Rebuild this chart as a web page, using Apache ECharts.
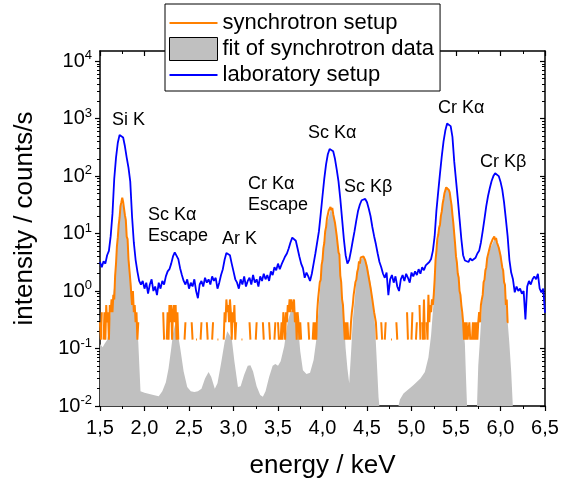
<!DOCTYPE html>
<html>
<head>
<meta charset="utf-8">
<script src="https://cdn.jsdelivr.net/npm/echarts@6/dist/echarts.min.js"></script>
<style>
  html, body { margin: 0; padding: 0; background: #fff; }
  #chart { width: 563px; height: 484px; }
</style>
</head>
<body>
<div id="chart"></div>
<script>
// ---- laboratory setup: count rate (counts/s), channels from 1.50 keV every 0.02 keV ----
const labStart = 1.5;
const labStep = 0.02;
const labRate = [
  3.2, 2.6, 3.3, 3.0, 4.2,
  5.0, 9, 22, 90, 210,
  380, 520, 560, 470, 330,
  210, 140, 80, 20, 7,
  3.5, 2.2, 1.5, 1.3, 1.5,
  1.1, 1.4, 0.9, 1.3, 1.6,
  1.0, 1.2, 0.85, 1.4, 1.1,
  1.5, 1.3, 1.8, 2.2, 2.4,
  3.0, 4.0, 4.7, 4.5, 3.6,
  2.5, 1.9, 1.5, 1.3, 1.6,
  1.1, 1.4, 1.2, 1.6, 1.0,
  0.75, 1.3, 1.5, 1.2, 1.7,
  1.4, 1.6, 1.3, 1.8, 1.5,
  1.7, 1.1, 1.4, 1.9, 2.4,
  3.5, 4.6, 4.8, 4.2, 3.0,
  2.2, 1.6, 1.4, 1.1, 1.6,
  1.3, 1.8, 1.2, 1.5, 1.7,
  1.3, 1.9, 1.4, 1.6, 1.2,
  1.8, 1.5, 2.0, 1.6, 1.9,
  1.5, 2.2, 1.9, 2.6, 2.3,
  3.0, 2.4, 2.9, 3.4, 4.0,
  4.5, 5.5, 7.0, 8.5, 9.0,
  7.5, 5.5, 4.0, 3.0, 2.5,
  1.7, 2.1, 1.8, 1.5, 2.0,
  3.0, 4.5, 7, 11, 22,
  45, 90, 160, 240, 295,
  305, 270, 200, 130, 80,
  40, 18, 8, 4.2, 3.0,
  3.5, 5, 7.5, 11, 17,
  25, 32, 38, 41, 40,
  35, 27, 20, 13, 9,
  6.5, 4.5, 3.2, 2.6, 2.0,
  1.7, 2.1, 0.85, 1.6, 1.9,
  1.4, 1.8, 1.2, 1.0, 1.6,
  1.9, 1.5, 2.0, 1.7, 1.4,
  2.1, 1.8, 2.2, 1.9, 2.4,
  2.0, 2.6, 2.3, 2.8, 3.0,
  3.2, 3.6, 5, 9, 25,
  53, 110, 220, 400, 620,
  820, 870, 740, 480, 180,
  85, 40, 18, 8, 4.2,
  3.4, 3.6, 3.2, 3.7, 3.4,
  3.6, 3.8, 4.5, 5, 7,
  11, 18, 30, 45, 62,
  82, 100, 112, 112, 100,
  80, 58, 35, 18, 9,
  3.5, 2.1, 1.6, 0.95, 1.2,
  1.0, 1.1, 0.9, 1.0, 0.32,
  1.2, 1.5, 1.3, 1.6, 1.8,
  1.6, 2.0, 1.1, 0.95, 1.1,
  0.42
];

// ---- synchrotron setup: counts per channel, channels from 1.50 keV every 0.01 keV ----
const syncStart = 1.5;
const syncStep = 0.01;
const syncLiveTime = 7; // s
const syncCounts = [
  2, 1, 3, 0, 1, 3, 1, 4, 2, 3,            // 1.50
  1, 4, 3, 5, 3, 6, 5, 13, 21, 42,         // 1.60
  60, 99, 132, 210, 245, 295, 248, 232, 146, 121, // 1.70
  62, 56, 25, 27, 11, 11, 4, 7, 3, 4,      // 1.80
  2, 3, 1, 2, 0, 0, 0, 0, 0, 0,            // 1.90
  0, 0, 0, 0, 0, 0, 0, 0, 0, 0,            // 2.00
  0, 0, 0, 0, 0, 0, 0, 0, 0, 0,            // 2.10
  0, 3, 1, 0, 0, 1, 3, 1, 4, 2,            // 2.20
  4, 1, 3, 4, 2, 4, 1, 3, 1, 0,            // 2.30
  0, 0, 0, 0, 0, 1, 2, 0, 0, 0,            // 2.40
  0, 0, 0, 2, 1, 0, 0, 0, 1, 1,            // 2.50
  0, 0, 0, 1, 2, 0, 0, 0, 0, 0,            // 2.60
  2, 1, 0, 0, 0, 0, 1, 2, 0, 0,            // 2.70
  0, 0, 1, 1, 0, 0, 0, 0, 0, 1,            // 2.80
  3, 2, 5, 3, 4, 2, 5, 3, 1, 3,            // 2.90
  2, 4, 1, 2, 0, 0, 0, 0, 0, 1,            // 3.00
  1, 0, 0, 0, 0, 0, 0, 0, 2, 1,            // 3.10
  0, 0, 0, 0, 0, 1, 2, 0, 0, 0,            // 3.20
  0, 0, 0, 2, 1, 0, 0, 0, 0, 0,            // 3.30
  2, 1, 0, 0, 0, 0, 1, 2, 0, 0,            // 3.40
  2, 1, 0, 1, 2, 1, 3, 2, 1, 3,            // 3.50
  2, 4, 3, 5, 3, 5, 4, 3, 5, 2,            // 3.60
  3, 1, 3, 2, 1, 2, 1, 0, 0, 0,            // 3.70
  0, 0, 0, 0, 2, 1, 0, 0, 0, 1,            // 3.80
  2, 1, 2, 1, 3, 5, 5, 10, 11, 20,         // 3.90
  24, 39, 48, 76, 90, 128, 134, 176, 170, 203, // 4.00
  178, 195, 152, 160, 108, 106, 64, 62, 33, 30, // 4.10
  13, 10, 5, 4, 2, 1, 2, 1, 2, 1,          // 4.20
  0, 1, 2, 3, 4, 6, 6, 10, 11, 15,         // 4.30
  17, 23, 21, 27, 27, 29, 28, 30, 24, 26,  // 4.40
  18, 19, 12, 13, 8, 8, 5, 5, 3, 3,        // 4.50
  2, 1, 0, 0, 0, 0, 2, 1, 0, 0,            // 4.60
  1, 2, 0, 0, 0, 0, 0, 1, 1, 0,            // 4.70
  0, 0, 0, 2, 1, 0, 0, 0, 0, 0,            // 4.80
  0, 0, 0, 0, 0, 3, 1, 0, 0, 0,            // 4.90
  1, 3, 0, 0, 0, 1, 2, 0, 0, 4,            // 5.00
  1, 0, 2, 1, 5, 1, 0, 2, 1, 6,            // 5.10
  2, 4, 3, 5, 4, 6, 11, 24, 35, 56,        // 5.20
  66, 88, 100, 142, 170, 232, 280, 350, 395, 445, // 5.30
  452, 470, 400, 360, 275, 218, 148, 106, 70, 46, // 5.40
  28, 22, 14, 12, 7, 6, 4, 3, 2, 1,        // 5.50
  2, 1, 2, 1, 1, 2, 1, 0, 1, 2,            // 5.60
  1, 2, 1, 2, 1, 2, 3, 2, 4, 5,            // 5.70
  6, 10, 11, 16, 18, 26, 26, 35, 35, 46,   // 5.80
  45, 55, 52, 62, 54, 59, 49, 50, 40, 38,  // 5.90
  29, 29, 18, 16, 10, 9, 4, 5, 2, 2,       // 6.00
  0, 0, 0, 0, 0, 0, 0, 0, 0, 0,            // 6.10
  0, 0, 0, 0, 0, 0, 0, 0, 0, 0,            // 6.20
  0, 0, 0, 0, 0, 0, 0, 0, 0, 0,            // 6.30
  0, 0, 0, 0, 0, 0, 0, 0, 0, 0,            // 6.40
  0                                        // 6.50
];

// ---- fit of the synchrotron spectrum (counts/s) ----
const fitEnergy = [
  1.50, 1.52, 1.53, 1.55, 1.58, 1.60, 1.62, 1.64, 1.66, 1.68,
  1.70, 1.72, 1.74, 1.75, 1.76, 1.78, 1.80, 1.82, 1.84, 1.86,
  1.88, 1.90, 1.92, 1.93, 1.945, 1.955, 2.00, 2.10, 2.16, 2.20,
  2.24, 2.27, 2.30, 2.32, 2.345, 2.37, 2.40, 2.44, 2.48, 2.52,
  2.56, 2.60, 2.64, 2.68, 2.72, 2.75, 2.79, 2.82, 2.86, 2.90,
  2.93, 2.95, 2.98, 3.01, 3.05, 3.08, 3.12, 3.16, 3.19, 3.22,
  3.26, 3.30, 3.33, 3.36, 3.40, 3.44, 3.47, 3.50, 3.53, 3.57,
  3.61, 3.645, 3.67, 3.70, 3.73, 3.75, 3.78, 3.82, 3.86, 3.90,
  3.93, 3.96, 4.00, 4.05, 4.095, 4.14, 4.18, 4.21, 4.24, 4.26,
  4.28, 4.30, 4.32, 4.34, 4.38, 4.42, 4.46, 4.50, 4.54, 4.57,
  4.59, 4.61, 4.63, 4.645, 4.70, 4.80, 4.84, 4.87, 4.91, 5.02,
  5.10, 5.15, 5.19, 5.22, 5.25, 5.28, 5.32, 5.36, 5.40, 5.43,
  5.46, 5.49, 5.52, 5.55, 5.58, 5.60, 5.61, 5.625, 5.64, 5.72,
  5.735, 5.75, 5.77, 5.80, 5.84, 5.88, 5.935, 5.98, 6.01, 6.05,
  6.08, 6.10, 6.12, 6.14, 6.16, 6.50
];
const fitRate = [
  0.12, 0.115, 0.105, 0.12, 0.14, 0.2, 0.45, 0.75, 1.2, 3.5,
  9.5, 22, 38, 40, 37, 23, 10, 4.5, 2, 1.0,
  0.55, 0.3, 0.18, 0.13, 0.04, 0.018, 0.017, 0.0155, 0.0148, 0.018,
  0.026, 0.045, 0.1, 0.18, 0.27, 0.2, 0.105, 0.04, 0.0215, 0.018,
  0.0175, 0.018, 0.02, 0.03, 0.039, 0.032, 0.02, 0.025, 0.055, 0.13,
  0.2, 0.21, 0.15, 0.06, 0.0215, 0.022, 0.035, 0.05, 0.051, 0.04,
  0.022, 0.0155, 0.0145, 0.018, 0.032, 0.05, 0.054, 0.05, 0.06, 0.11,
  0.3, 0.45, 0.45, 0.4, 0.2, 0.09, 0.042, 0.036, 0.038, 0.063,
  0.14, 0.6, 3.5, 15, 27, 16, 5.5, 1.3, 0.35, 0.1,
  0.045, 0.025, 0.08, 0.3, 1.5, 3.3, 4.0, 3.0, 1.4, 0.6,
  0.25, 0.06, 0.014, 0.008, 0.002, 0.002, 0.008, 0.013, 0.0165, 0.023,
  0.03, 0.039, 0.07, 0.17, 0.7, 4.5, 15, 40, 65, 50,
  20, 6, 2, 0.7, 0.25, 0.12, 0.04, 0.009, 0.002, 0.002,
  0.009, 0.05, 0.15, 1.0, 2.8, 5.3, 8.2, 6.2, 4.0, 1.1,
  0.3, 0.12, 0.04, 0.009, 0.002, 0.002
];

// ---- axes ----
const energyMin = 1.5, energyMax = 6.5, energyInterval = 0.5;
const rateMin = 0.01, rateMax = 15000;
const rateDecades = [0.01, 0.1, 1, 10, 100, 1000, 10000];

// log minor ticks at 2..9 within each decade
const rateMinorTicks = [];
rateDecades.slice(0, -1).forEach(function (d) {
  for (let k = 2; k <= 9; k++) rateMinorTicks.push(+(d * k).toPrecision(3));
});

const FONT = '"Liberation Sans", Arial, Helvetica, sans-serif';

function channelEnergy(start, step, i) {
  return Math.round((start + i * step) * 1000) / 1000;
}
const labData = labRate.map(function (v, i) { return [channelEnergy(labStart, labStep, i), v]; });
const syncData = syncCounts.map(function (c, i) {
  return [channelEnergy(syncStart, syncStep, i), c > 0 ? c / syncLiveTime : '-'];
});
const fitData = fitEnergy.map(function (e, i) { return [e, fitRate[i]]; });

const axisColor = '#000';
const lineW = 1.5;

// legend marker for the line series: a 2px bar centred in the item box
const lineIcon = 'path://M0,0 L0.01,0 Z M0,10.5 L48,10.5 L48,12.5 L0,12.5 Z M47.99,23 L48,23 Z';

function xAxisBase(extra) {
  return Object.assign({
    type: 'value', min: energyMin, max: energyMax, interval: energyInterval,
    splitLine: { show: false },
    axisLine: { show: true, onZero: false, lineStyle: { color: axisColor, width: lineW } },
    axisTick: { show: true, length: 5, lineStyle: { color: axisColor, width: 1.2 } },
    minorTick: { show: true, splitNumber: 2, length: 3, lineStyle: { color: axisColor, width: 1 } },
    minorSplitLine: { show: false }
  }, extra);
}
function yAxisBase(extra) {
  return Object.assign({
    type: 'log', logBase: 10, min: rateMin, max: rateMax,
    splitLine: { show: false },
    axisLine: { show: false, onZero: false, lineStyle: { color: axisColor, width: lineW } },
    axisLabel: { show: false }
  }, extra);
}

const peakLabels = [
  { text: 'Si K', x: 112, y: 120 },
  { text: 'Sc K\u03b1\nEscape', x: 148, y: 226 },
  { text: 'Ar K', x: 222, y: 239 },
  { text: 'Cr K\u03b1\nEscape', x: 248, y: 194.5 },
  { text: 'Sc K\u03b1', x: 308, y: 133 },
  { text: 'Sc K\u03b2', x: 344, y: 187 },
  { text: 'Cr K\u03b1', x: 438, y: 108 },
  { text: 'Cr K\u03b2', x: 480, y: 162 }
];

const chart = echarts.init(document.getElementById('chart'), null, { renderer: 'canvas' });

chart.setOption({
  animation: false,
  backgroundColor: '#fff',
  textStyle: { fontFamily: FONT },
  grid: { left: 100, right: 18, top: 51, bottom: 75, containLabel: false },
  legend: {
    orient: 'vertical', left: 165, top: 4,
    padding: [6, 6, 3, 4], itemGap: 0, itemWidth: 48, itemHeight: 23, itemTextGap: 6,
    selectedMode: false,
    backgroundColor: '#fff', borderColor: '#000', borderWidth: 1, borderRadius: 0,
    z: 20,
    textStyle: { fontSize: 22, lineHeight: 26, color: '#000', fontFamily: FONT },
    data: [
      { name: 'synchrotron setup', icon: lineIcon,
        itemStyle: { color: '#ff8000', borderWidth: 0 }, lineStyle: { width: 0 } },
      { name: 'fit of synchrotron data', icon: 'rect',
        itemStyle: { color: '#c0c0c0', borderColor: '#000', borderWidth: 1 } },
      { name: 'laboratory setup', icon: lineIcon,
        itemStyle: { color: '#0000ff', borderWidth: 0 }, lineStyle: { width: 0 } }
    ]
  },
  xAxis: [
    xAxisBase({
      position: 'bottom',
      name: 'energy / keV', nameLocation: 'middle', nameGap: 47,
      nameTextStyle: { fontSize: 26, color: '#000', fontFamily: FONT },
      axisLabel: {
        show: true, margin: 12, fontSize: 20, color: '#000', fontFamily: FONT,
        formatter: function (v) { return v.toFixed(1).replace('.', ','); }
      }
    }),
    xAxisBase({
      position: 'top',
      axisLabel: { show: false },
      axisTick: { show: true, inside: true, length: 5, lineStyle: { color: axisColor, width: 1.2 } }
    })
  ],
  yAxis: [
    yAxisBase({
      position: 'left',
      name: 'intensity / counts/s', nameLocation: 'middle', nameGap: 62,
      nameTextStyle: { fontSize: 26, color: '#000', fontFamily: FONT, padding: [0, 0, 0, 20] },
      axisLine: { show: true, onZero: false, lineStyle: { color: axisColor, width: lineW } },
      axisTick: { show: true, length: 5, customValues: rateDecades, lineStyle: { color: axisColor, width: 1.2 } },
      axisLabel: {
        show: true, margin: 8, customValues: rateDecades, color: '#000', fontFamily: FONT,
        formatter: function (v) {
          return '{b|10}{e|' + String(Math.round(Math.log10(v))) + '}';
        },
        rich: {
          b: { fontSize: 20, lineHeight: 24, color: '#000', fontFamily: FONT },
          e: { fontSize: 13, lineHeight: 13, verticalAlign: 'top', color: '#000', fontFamily: FONT }
        }
      }
    }),
    yAxisBase({
      position: 'left',
      axisTick: { show: true, length: 3, customValues: rateMinorTicks, lineStyle: { color: axisColor, width: 1 } }
    }),
    yAxisBase({
      position: 'right',
      axisLine: { show: true, onZero: false, lineStyle: { color: axisColor, width: lineW } },
      axisTick: { show: true, inside: true, length: 5, customValues: rateDecades, lineStyle: { color: axisColor, width: 1.2 } }
    }),
    yAxisBase({
      position: 'right',
      axisTick: { show: true, inside: true, length: 3, customValues: rateMinorTicks, lineStyle: { color: axisColor, width: 1 } }
    })
  ],
  series: [
    {
      name: 'fit of synchrotron data', type: 'line', data: fitData,
      xAxisIndex: 0, yAxisIndex: 0, symbol: 'none', silent: true, z: 1,
      lineStyle: { width: 0, color: '#c0c0c0' },
      itemStyle: { color: '#c0c0c0' },
      areaStyle: { color: '#c0c0c0', opacity: 1 }
    },
    {
      name: 'synchrotron setup', type: 'line', data: syncData,
      xAxisIndex: 0, yAxisIndex: 0, symbol: 'none', silent: true, z: 2,
      connectNulls: false,
      lineStyle: { width: 2, color: '#ff8000' },
      itemStyle: { color: '#ff8000' }
    },
    {
      name: 'laboratory setup', type: 'line', data: labData,
      xAxisIndex: 0, yAxisIndex: 0, symbol: 'none', silent: true, z: 3,
      lineStyle: { width: 1.8, color: '#0000ff' },
      itemStyle: { color: '#0000ff' }
    }
  ],
  graphic: peakLabels.map(function (p) {
    return {
      type: 'text', x: p.x, y: p.y, z: 30, silent: true,
      style: {
        text: p.text, fill: '#000', font: '18px ' + FONT,
        align: 'left', textAlign: 'left',
        verticalAlign: 'middle', textVerticalAlign: 'middle',
        lineHeight: 21
      }
    };
  })
});
</script>
</body>
</html>
